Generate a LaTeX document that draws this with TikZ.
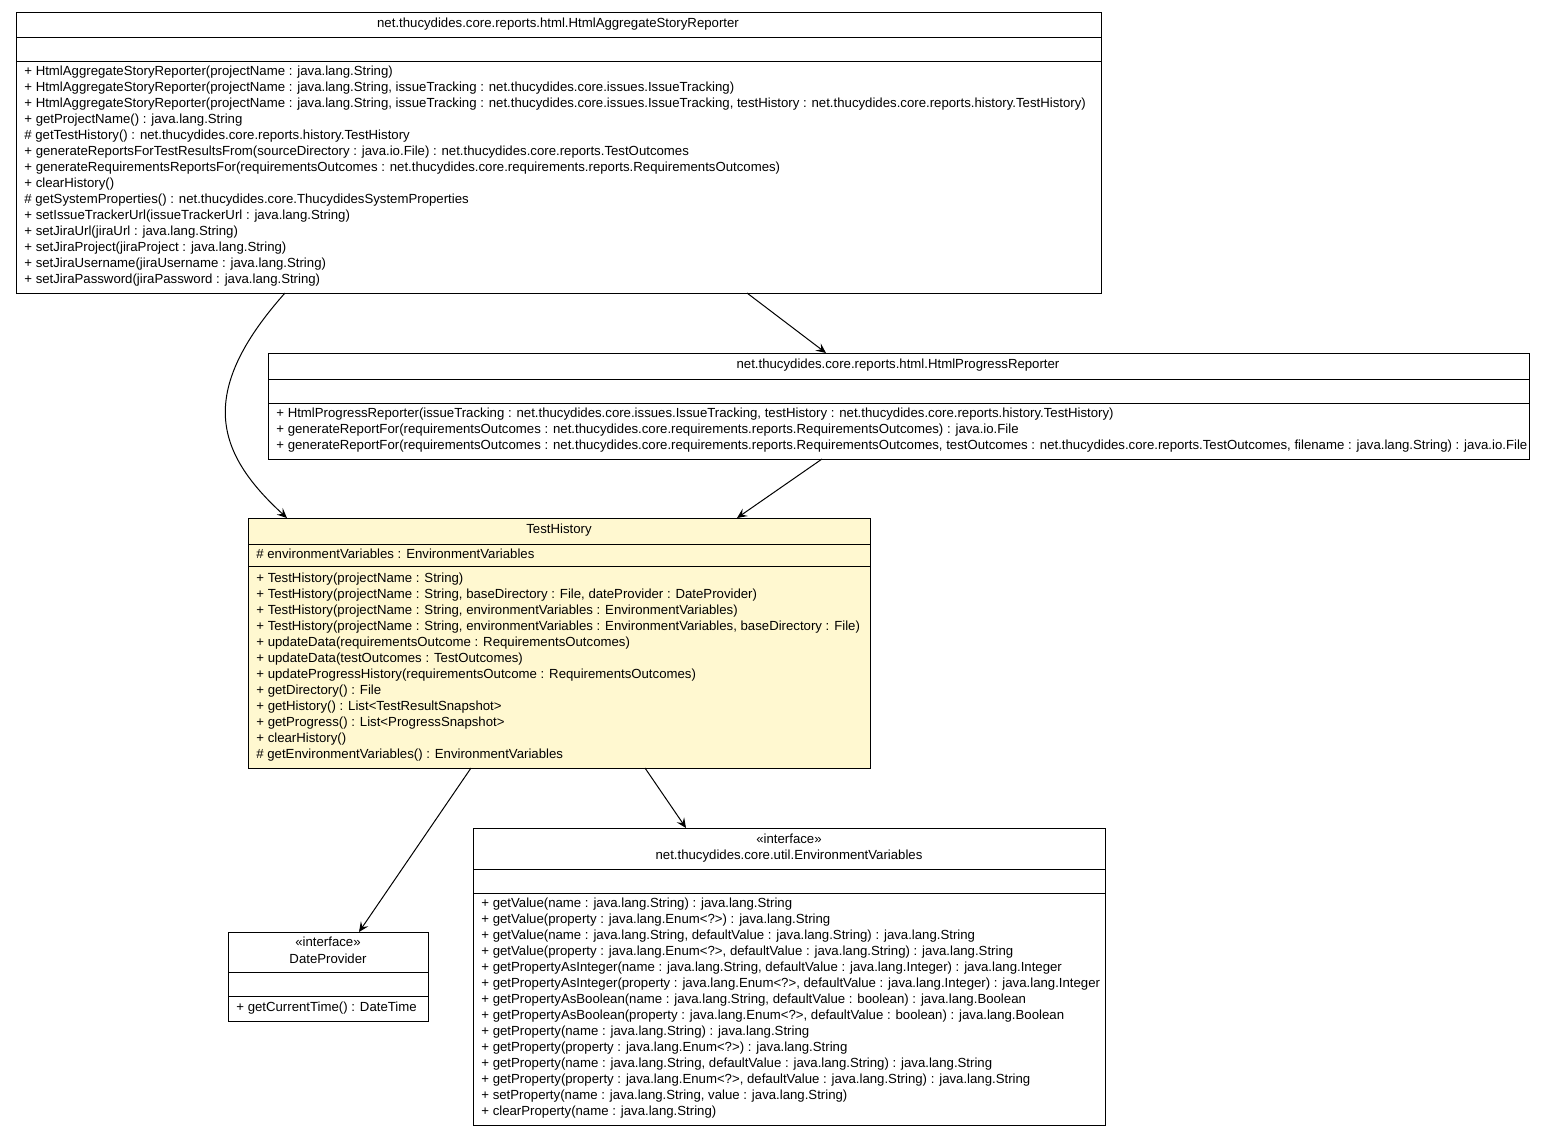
\documentclass[tikz,border=0pt]{standalone}
\usepackage{fontspec}
\setmainfont{Liberation Sans}
\usetikzlibrary{positioning, arrows.meta, calc}
\definecolor{focus}{RGB}{255,248,208}
\tikzset{
	x=0.5pt, y=-0.5pt,
	every node/.style={font=\fontsize{6.6}{8}\selectfont, inner sep=0pt},
	members/.style={anchor=base west, align=left},
	dep/.style={-{Stealth[length=5pt,width=4.5pt,inset=2pt]}, line width=0.5pt},
}
\begin{document}
\begin{tikzpicture}
	\useasboundingbox (0,0) rectangle (1545,1136);
	% boxes
	\draw[line width=0.5pt] (16,12) rectangle (1101,293);
	\draw[line width=0.5pt] (268,353) rectangle (1529,459);
	\draw[line width=0.5pt, fill=focus] (248,518) rectangle (870,768);
	\draw[line width=0.5pt] (228,932) rectangle (428,1021);
	\draw[line width=0.5pt] (473,828) rectangle (1105,1125);
	\coordinate (AGG) at (16,12);
	\coordinate (PRG) at (268,353);
	\coordinate (HIS) at (248,518);
	\coordinate (DATE) at (228,932);
	\coordinate (ENV) at (473,828);
	% compartments
	\draw[line width=0.5pt] (16,37) -- (1101,37) (16,61) -- (1101,61);
	\draw[line width=0.5pt] (268,379) -- (1529,379) (268,403) -- (1529,403);
	\draw[line width=0.5pt] (248,544) -- (870,544) (248,566) -- (870,566);
	\draw[line width=0.5pt] (228,972) -- (428,972) (228,996) -- (428,996);
	\draw[line width=0.5pt] (473,869) -- (1105,869) (473,893) -- (1105,893);

	\node (aggT) at (558,24) {net.thucydides.core.reports.html.HtmlAggregateStoryReporter};
	\node[members] (aggM) at (24,283) {%
+ HtmlAggregateStoryReporter(projectName : java.lang.String)\\
+ HtmlAggregateStoryReporter(projectName : java.lang.String, issueTracking : net.thucydides.core.issues.IssueTracking)\\
+ HtmlAggregateStoryReporter(projectName : java.lang.String, issueTracking : net.thucydides.core.issues.IssueTracking, testHistory : net.thucydides.core.reports.history.TestHistory)\\
+ getProjectName() : java.lang.String\\
\# getTestHistory() : net.thucydides.core.reports.history.TestHistory\\
+ generateReportsForTestResultsFrom(sourceDirectory : java.io.File) : net.thucydides.core.reports.TestOutcomes\\
+ generateRequirementsReportsFor(requirementsOutcomes : net.thucydides.core.requirements.reports.RequirementsOutcomes)\\
+ clearHistory()\\
\# getSystemProperties() : net.thucydides.core.ThucydidesSystemProperties\\
+ setIssueTrackerUrl(issueTrackerUrl : java.lang.String)\\
+ setJiraUrl(jiraUrl : java.lang.String)\\
+ setJiraProject(jiraProject : java.lang.String)\\
+ setJiraUsername(jiraUsername : java.lang.String)\\
+ setJiraPassword(jiraPassword : java.lang.String)};

	\node (prgT) at (898,365) {net.thucydides.core.reports.html.HtmlProgressReporter};
	\node[members] (prgM) at (276,449) {%
+ HtmlProgressReporter(issueTracking : net.thucydides.core.issues.IssueTracking, testHistory : net.thucydides.core.reports.history.TestHistory)\\
+ generateReportFor(requirementsOutcomes : net.thucydides.core.requirements.reports.RequirementsOutcomes) : java.io.File\\
+ generateReportFor(requirementsOutcomes : net.thucydides.core.requirements.reports.RequirementsOutcomes, testOutcomes : net.thucydides.core.reports.TestOutcomes, filename : java.lang.String) : java.io.File};

	\node (hisT) at (559,530) {TestHistory};
	\node[members] (hisA) at (256,558) {\# environmentVariables : EnvironmentVariables};
	\node[members] (hisM) at (256,758) {%
+ TestHistory(projectName : String)\\
+ TestHistory(projectName : String, baseDirectory : File, dateProvider : DateProvider)\\
+ TestHistory(projectName : String, environmentVariables : EnvironmentVariables)\\
+ TestHistory(projectName : String, environmentVariables : EnvironmentVariables, baseDirectory : File)\\
+ updateData(requirementsOutcome : RequirementsOutcomes)\\
+ updateData(testOutcomes : TestOutcomes)\\
+ updateProgressHistory(requirementsOutcome : RequirementsOutcomes)\\
+ getDirectory() : File\\
+ getHistory() : List<TestResultSnapshot>\\
+ getProgress() : List<ProgressSnapshot>\\
+ clearHistory()\\
\# getEnvironmentVariables() : EnvironmentVariables};

	\node (dateS) at (328,942) {«interface»};
	\node (dateT) at (328,959) {DateProvider};
	\node[members] (dateM) at (236,1011) {+ getCurrentTime() : DateTime};

	\node (envS) at (789,839) {«interface»};
	\node (envT) at (789,856) {net.thucydides.core.util.EnvironmentVariables};
	\node[members] (envM) at (481,1115) {%
+ getValue(name : java.lang.String) : java.lang.String\\
+ getValue(property : java.lang.Enum<?>) : java.lang.String\\
+ getValue(name : java.lang.String, defaultValue : java.lang.String) : java.lang.String\\
+ getValue(property : java.lang.Enum<?>, defaultValue : java.lang.String) : java.lang.String\\
+ getPropertyAsInteger(name : java.lang.String, defaultValue : java.lang.Integer) : java.lang.Integer\\
+ getPropertyAsInteger(property : java.lang.Enum<?>, defaultValue : java.lang.Integer) : java.lang.Integer\\
+ getPropertyAsBoolean(name : java.lang.String, defaultValue : boolean) : java.lang.Boolean\\
+ getPropertyAsBoolean(property : java.lang.Enum<?>, defaultValue : boolean) : java.lang.Boolean\\
+ getProperty(name : java.lang.String) : java.lang.String\\
+ getProperty(property : java.lang.Enum<?>) : java.lang.String\\
+ getProperty(name : java.lang.String, defaultValue : java.lang.String) : java.lang.String\\
+ getProperty(property : java.lang.Enum<?>, defaultValue : java.lang.String) : java.lang.String\\
+ setProperty(name : java.lang.String, value : java.lang.String)\\
+ clearProperty(name : java.lang.String)};

	% dependencies
	\draw[dep] ($(AGG)+(269,281)$) .. controls ($(AGG)+(180,381)$) and ($(AGG)+(200,441)$) .. ($(HIS)+(39,0)$);
	\draw[dep] ($(AGG)+(731,281)$) -- ($(PRG)+(558,0)$);
	\draw[dep] ($(PRG)+(554,106)$) -- ($(HIS)+(489,0)$);
	\draw[dep] ($(HIS)+(223,250)$) -- ($(DATE)+(131,0)$);
	\draw[dep] ($(HIS)+(397,250)$) -- ($(ENV)+(213,0)$);
\end{tikzpicture}
\end{document}
